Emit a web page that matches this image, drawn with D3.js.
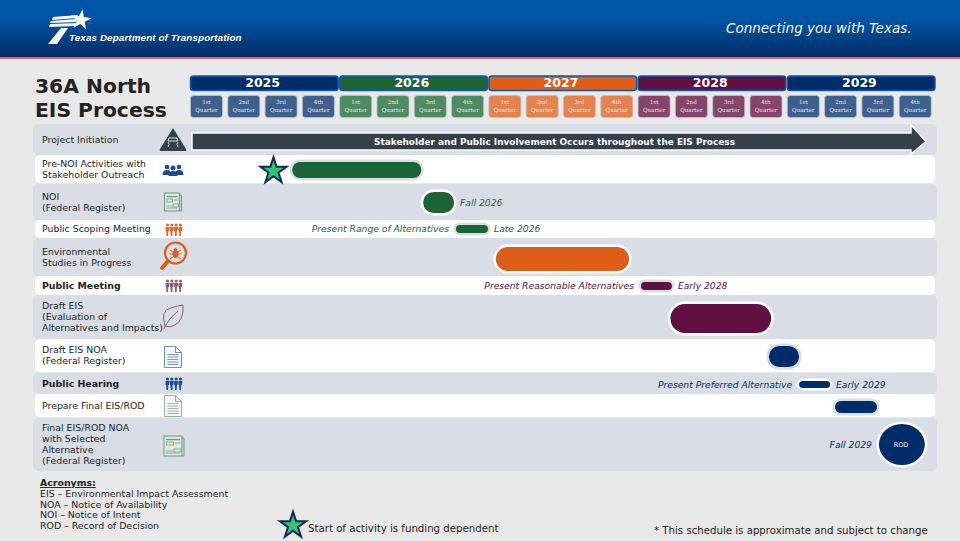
<!DOCTYPE html>
<html>
<head>
<meta charset="utf-8">
<script src="https://cdnjs.cloudflare.com/ajax/libs/d3/7.8.5/d3.min.js"></script>
<style>
  html, body { margin: 0; padding: 0; background: #e9e9e9; }
  svg { display: block; }
  text { font-family: "DejaVu Sans", sans-serif; }
</style>
</head>
<body>
<svg id="chart" width="960" height="541"></svg>
<script>
// values, in quarters counted from the start of 2025
var years = ['2025', '2026', '2027', '2028', '2029'];
var quarters = ['1st', '2nd', '3rd', '4th'];
var tasks = [
  ['Project Initiation'],
  ['Pre-NOI Activities with', 'Stakeholder Outreach'],
  ['NOI', '(Federal Register)'],
  ['Public Scoping Meeting'],
  ['Environmental', 'Studies in Progress'],
  ['Public Meeting'],
  ['Draft EIS', '(Evaluation of', 'Alternatives and Impacts)'],
  ['Draft EIS NOA', '(Federal Register)'],
  ['Public Hearing'],
  ['Prepare Final EIS/ROD'],
  ['Final EIS/ROD NOA', 'with Selected', 'Alternative', '(Federal Register)']
];
var taskStart = [null, 2.74, 6.25, 7.13, 8.2, 12.09, 12.88, 15.52, 16.33, 17.29, 18.47];
var taskEnd = [null, 6.2, 7.08, 7.99, 11.77, 12.92, 15.58, 16.33, 17.16, 18.42, 19.7];
var notesBefore = ['', '', '', 'Present Range of Alternatives', '', 'Present Reasonable Alternatives', '', '', 'Present Preferred Alternative', '', 'Fall 2029'];
var notesAfter = ['', '', 'Fall 2026', 'Late 2026', '', 'Early 2028', '', '', 'Early 2029', '', ''];
var acronyms = ['EIS \u2013 Environmental Impact Assessment', 'NOA \u2013 Notice of Availability', 'NOI \u2013 Notice of Intent', 'ROD \u2013 Record of Decision'];

// layout
var rowTop = [124, 155, 184, 220, 238, 276, 295, 339, 373, 394, 418];
var rowBottom = [155, 183, 220, 238, 276, 295, 339, 372, 394, 417, 471];
var barTop = [0, 162, 192, 225, 247, 282, 304, 346, 381, 401, 424];
var barBottom = [0, 178, 213, 233, 271, 290, 333, 367, 388, 413, 465];
var taskColors = ['#36404a', '#1b6535', '#1b6535', '#1b6535', '#df5e17', '#600f42', '#600f42', '#002d69', '#002d69', '#002d69', '#002d69'];
var boldRows = [5, 8];
var yearColors = ['#002d69', '#1b6535', '#df5e17', '#600f42', '#002d69'];
var quarterColors = ['#3f5f8d', '#4f8a62', '#e5834e', '#85446a', '#3f5f8d'];
var rowGray = '#d9dee6';

var svg = d3.select('#chart');
var x = d3.scaleLinear().domain([0, 20]).range([190, 936]);

// header band
var defs = svg.append('defs');
var grad = defs.append('linearGradient').attr('id', 'head').attr('x2', 0).attr('y2', 1);
grad.append('stop').attr('offset', '0%').attr('stop-color', '#0056a8');
grad.append('stop').attr('offset', '35%').attr('stop-color', '#0054a4');
grad.append('stop').attr('offset', '100%').attr('stop-color', '#012c62');
svg.append('rect').attr('width', 960).attr('height', 57).attr('fill', 'url(#head)');
svg.append('rect').attr('y', 57).attr('width', 960).attr('height', 2).attr('fill', '#e2636b');

// logo
var logo = svg.append('g').attr('fill', '#fff');
logo.append('path').attr('d', 'M61 28 L68 28 L57 44 L48 44 Z');
logo.append('path').attr('d', 'M53 17 L78 15 L76 18 L52 20 Z M51 21 L76 19 L77 22 L50 23 Z M50 24 L78 23 L74 26 L49 27 Z');
logo.append('path').attr('d', d3.symbol().type(d3.symbolStar).size(130)()).attr('transform', 'translate(81,20) rotate(8)');
logo.append('text').attr('x', 69).attr('y', 41).attr('font-size', 9.8).attr('font-weight', 'bold').attr('font-style', 'italic')
  .style('font-family', '"Liberation Sans"').style('letter-spacing', '0.13px').text('Texas Department of Transportation');
svg.append('text').attr('x', 726).attr('y', 33).attr('font-size', 13.5).attr('font-style', 'italic').attr('fill', '#f2f5fa').text('Connecting you with Texas.');

// title
svg.selectAll('.title').data(['36A North', 'EIS Process']).enter().append('text')
  .attr('x', 35).attr('y', function (d, i) { return 92.5 + i * 24.5; })
  .attr('font-size', 20.3).attr('font-weight', 'bold').attr('fill', '#222').text(function (d) { return d; });

// year bars and quarter boxes
years.forEach(function (yr, i) {
  svg.append('rect').attr('x', x(i * 4) + 0.5).attr('y', 76).attr('width', x(4) - x(0) - 1.5).attr('height', 14.5).attr('rx', 3)
    .attr('fill', yearColors[i]).attr('stroke', '#0f5aa8').attr('stroke-width', 1.5);
  svg.append('text').attr('x', x(i * 4 + 2) - 2).attr('y', 86.5).attr('text-anchor', 'middle').attr('font-size', 12.5)
    .attr('font-weight', 'bold').attr('fill', '#fff').text(yr);
  quarters.forEach(function (q, j) {
    var qx = x(i * 4 + j);
    svg.append('rect').attr('x', qx + 0.5).attr('y', 95.5).attr('width', 32).attr('height', 22).attr('rx', 3)
      .attr('fill', quarterColors[i]).attr('stroke', '#b8c3d3').attr('stroke-width', 0.8);
    var t = svg.append('text').attr('text-anchor', 'middle').attr('font-size', 5.6).attr('fill', '#e6e9ef')
      .style('font-family', '"DejaVu Serif"');
    t.append('tspan').attr('x', qx + 16.5).attr('y', 103.5).text(q);
    t.append('tspan').attr('x', qx + 16.5).attr('y', 111.5).text('Quarter');
  });
});

// rows
tasks.forEach(function (lines, i) {
  var top = rowTop[i], bottom = rowBottom[i];
  var gray = i % 2 === 0;
  svg.append('rect').attr('x', gray ? 33 : 35).attr('y', top).attr('width', gray ? 904 : 900).attr('height', bottom - top).attr('rx', 5)
    .attr('fill', gray ? rowGray : '#fff');
  var mid = (top + bottom) / 2;
  var t = svg.append('text').attr('font-size', 9.4).attr('fill', '#1e1e1e')
    .attr('font-weight', boldRows.indexOf(i) >= 0 ? 'bold' : 'normal');
  lines.forEach(function (line, k) {
    t.append('tspan').attr('x', 42).attr('y', mid + 3.3 + (k - (lines.length - 1) / 2) * 11).text(line);
  });
});

// the long arrow on the first row
var ay = d3.scaleLinear().domain([0, 1]).range([133, 150]);
var arrowLine = d3.line();
svg.append('path').attr('d', arrowLine([
  [x(0) + 2, ay(0)], [x(19.33), ay(0)], [x(19.33), 125], [926, 141.5], [x(19.33), 154], [x(19.33), ay(1)], [x(0) + 2, ay(1)]
]) + 'Z').attr('fill', taskColors[0]).attr('stroke', '#fff').attr('stroke-width', 1.5);
svg.append('text').attr('x', 554.5).attr('y', 144.5).attr('text-anchor', 'middle').attr('font-size', 8.95).attr('font-weight', 'bold')
  .attr('fill', '#fff').text('Stakeholder and Public Involvement Occurs throughout the EIS Process');

// bars and notes
tasks.forEach(function (lines, i) {
  if (taskStart[i] === null) return;
  var gray = i % 2 === 0;
  var x0 = x(taskStart[i]), x1 = x(taskEnd[i]);
  var h = barBottom[i] - barTop[i];
  svg.append('rect').attr('x', x0).attr('y', barTop[i]).attr('width', x1 - x0).attr('height', h)
    .attr('rx', i === 10 ? (x1 - x0) / 2 : Math.min(h, x1 - x0) / 2).attr('ry', h / 2)
    .attr('fill', taskColors[i]).attr('stroke', gray ? '#fff' : rowGray).attr('stroke-width', 5)
    .style('paint-order', 'stroke');
  var mid = (barTop[i] + barBottom[i]) / 2 + 3.3;
  if (notesBefore[i]) {
    svg.append('text').attr('x', x0 - 7).attr('y', mid).attr('text-anchor', 'end').attr('font-size', 9.2).attr('font-style', 'italic')
      .attr('fill', taskColors[i]).text(notesBefore[i]);
  }
  if (notesAfter[i]) {
    svg.append('text').attr('x', x1 + 6).attr('y', mid).attr('font-size', 9.2).attr('font-style', 'italic')
      .attr('fill', taskColors[i]).text(notesAfter[i]);
  }
});
svg.append('text').attr('x', 901).attr('y', 446.5).attr('text-anchor', 'middle').attr('font-size', 6.5).attr('fill', '#e6e9ef').text('ROD');

// stars
function star(cx, cy) {
  svg.append('path').attr('d', d3.symbol().type(d3.symbolStar).size(125)())
    .attr('transform', 'translate(' + cx + ',' + cy + ')')
    .attr('fill', '#33c46f').attr('stroke', '#0e2a57').attr('stroke-width', 4).attr('stroke-linejoin', 'miter')
    .style('paint-order', 'stroke');
}
star(273.5, 171);
star(293, 525.5);

// icons
function people(cx, cy, n, color, gap, r) {
  d3.range(n).forEach(function (k) {
    var px = cx + (k - (n - 1) / 2) * gap;
    svg.append('circle').attr('cx', px).attr('cy', cy - 5).attr('r', r).attr('fill', color);
    svg.append('path').attr('d', 'M' + (px - 2) + ' ' + (cy - 3) + 'h4l-0.6 4h-0.6l-0.3 5h-1.6l-0.3 -5h-0.6z').attr('fill', color);
  });
}
function doc(cx, cy, w, h, color) {
  var l = cx - w / 2, t = cy - h / 2;
  svg.append('path').attr('d', 'M' + l + ' ' + t + 'h' + (w - 6) + 'l6 6v' + (h - 6) + 'h' + (-w) + 'z M' + (l + w - 6) + ' ' + t + 'v6h6')
    .attr('fill', '#f4f6f9').attr('stroke', color).attr('stroke-width', 1);
  d3.range(5).forEach(function (k) {
    svg.append('line').attr('x1', l + 3).attr('x2', l + w - 3).attr('y1', t + 8 + k * (h - 11) / 4).attr('y2', t + 8 + k * (h - 11) / 4)
      .attr('stroke', color).attr('stroke-width', 0.9);
  });
}
function news(cx, cy, w, h) {
  var c = '#6a9b7d', l = cx - w / 2, t = cy - h / 2;
  svg.append('rect').attr('x', l).attr('y', t).attr('width', w - 2).attr('height', h).attr('fill', '#dce8e0').attr('stroke', c);
  svg.append('path').attr('d', 'M' + (l + w - 2) + ' ' + (t + 2) + 'h2v' + (h - 2) + 'h-2').attr('fill', 'none').attr('stroke', c);
  svg.append('rect').attr('x', l + 2).attr('y', t + 3).attr('width', w - 6).attr('height', 1.2).attr('fill', c);
  svg.append('rect').attr('x', l + 2.5).attr('y', t + 6).attr('width', (w - 6) / 2).attr('height', 3).attr('fill', 'none').attr('stroke', c).attr('stroke-width', 0.7);
  svg.append('rect').attr('x', l + w / 2).attr('y', t + h - 7).attr('width', (w - 6) / 2).attr('height', 3).attr('fill', 'none').attr('stroke', c).attr('stroke-width', 0.7);
  svg.append('path').attr('d', 'M' + (l + 2) + ' ' + (t + h - 5) + 'h' + (w / 2 - 3) + 'M' + (l + w / 2 + 1) + ' ' + (t + 7) + 'h' + (w / 2 - 4) + 'M' + (l + 2) + ' ' + (t + h - 3) + 'h' + (w - 6)).attr('stroke', c).attr('stroke-width', 0.7);
}
// road warning triangle
svg.append('path').attr('d', 'M173 128 L186 149 Q187 151 185 151 L161 151 Q159 151 160 149 Z').attr('fill', '#36404a');
svg.append('path').attr('d', 'M168 147 q2 -3 0 -5 M178 147 q-2 -3 0 -5 M169 138 h8 l1 3 h-10 z').attr('fill', 'none').attr('stroke', '#d9dee6').attr('stroke-width', 1);
// stakeholder group
[[167, 167, 2.3], [179, 167, 2.3], [173, 168, 2.5]].forEach(function (p) {
  svg.append('circle').attr('cx', p[0]).attr('cy', p[1]).attr('r', p[2]).attr('fill', '#1c4c94');
  svg.append('path').attr('d', 'M' + (p[0] - 4.5) + ' ' + (p[1] + 8) + 'q0 -5 4.5 -5 q4.5 0 4.5 5z').attr('fill', '#1c4c94');
});
news(173, 202, 17, 18);
people(174, 230, 4, '#e0682a', 4.3, 1.6);
people(174, 286, 4, '#8e5a80', 4.3, 1.6);
people(174, 384, 4, '#1c4c94', 4.3, 1.6);
doc(173, 357, 17, 21, '#6f8fb8');
doc(173, 406, 17, 21, '#8fb59c');
news(174, 446, 20, 20);
// magnifier with bug
svg.append('circle').attr('cx', 175.5).attr('cy', 253).attr('r', 10.5).attr('fill', 'none').attr('stroke', '#df5e17').attr('stroke-width', 2.2);
svg.append('line').attr('x1', 168).attr('y1', 261).attr('x2', 162).attr('y2', 268).attr('stroke', '#df5e17').attr('stroke-width', 4).attr('stroke-linecap', 'round');
svg.append('ellipse').attr('cx', 175.5).attr('cy', 254).attr('rx', 3).attr('ry', 4).attr('fill', '#df5e17');
svg.append('circle').attr('cx', 175.5).attr('cy', 249.5).attr('r', 1.6).attr('fill', '#df5e17');
svg.append('path').attr('d', 'M170 250l3 2M181 250l-3 2M169.500 254h4M181.500 254h-4M170 259l3 -2M181 259l-3 -2').attr('stroke', '#df5e17').attr('stroke-width', 0.9);
// leaf
svg.append('path').attr('d', 'M165 326 Q160 310 171 308 Q176 306 183 305 Q184 320 175 325 Q170 328 165 326 Z M165 326 Q171 316 178 311 M164 329 L165 326').attr('fill', 'none').attr('stroke', '#8e5a80').attr('stroke-width', 1);

// acronyms
svg.append('text').attr('x', 40).attr('y', 486).attr('font-size', 9.4).attr('font-weight', 'bold').attr('text-decoration', 'underline').attr('fill', '#1e1e1e').text('Acronyms:');
svg.selectAll('.acronym').data(acronyms).enter().append('text')
  .attr('x', 40).attr('y', function (d, i) { return 497 + i * 10.6; })
  .attr('font-size', 9.4).attr('fill', '#1e1e1e').text(function (d) { return d; });
svg.append('text').attr('x', 308).attr('y', 532).attr('font-size', 10.2).attr('fill', '#1e1e1e').text('Start of activity is funding dependent');
svg.append('text').attr('x', 654).attr('y', 534).attr('font-size', 10.2).attr('fill', '#1e1e1e').text('* This schedule is approximate and subject to change');
</script>
</body>
</html>
